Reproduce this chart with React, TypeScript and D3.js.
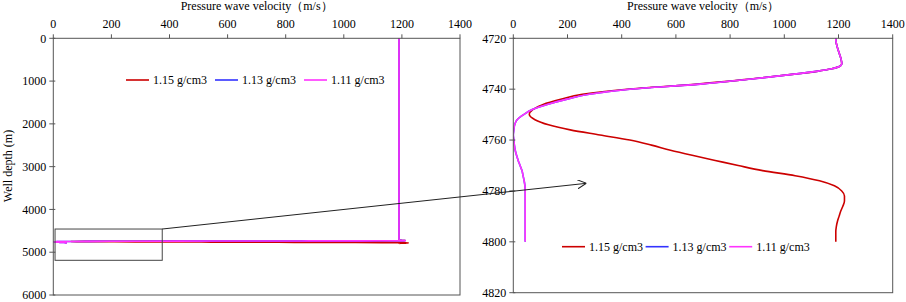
import React from "react";
import * as d3 from "d3";

// data: depth (m) and pressure wave velocity (m/s) per density
const depths = [
  0, 4720, 4722, 4724, 4726, 4728, 4730, 4731, 4732, 4733, 4734, 4736, 4738, 4740,
  4742, 4744, 4746, 4748, 4750, 4752, 4754, 4756, 4758, 4760, 4762, 4764, 4766,
  4768, 4770, 4772, 4774, 4776, 4778, 4780, 4782, 4784, 4786, 4788, 4790, 4792,
  4794, 4796, 4798, 4800,
];
const v115 = [
  1190, 1190, 1192, 1197, 1203, 1209, 1212, 1205, 1175, 1120, 1045, 875, 680, 420,
  255, 175, 110, 72, 59, 80, 130, 210, 320, 430, 510, 580, 660,
  745, 830, 920, 1040, 1130, 1185, 1212, 1222, 1222, 1216, 1208, 1202, 1196,
  1192, 1190, 1190, 1190,
];
const v113 = [
  1190, 1190, 1192, 1197, 1203, 1209, 1212, 1205, 1175, 1120, 1045, 880, 690, 430,
  280, 195, 125, 70, 38, 14, 5, 2, 0, 2, 4, 7, 12,
  18, 25, 32, 36, 40, 43, 44, 44, 44, 44, 44, 44, 44,
  44, 44, 44, 44,
];
const v111 = [
  1190, 1190, 1192, 1197, 1203, 1209, 1212, 1205, 1175, 1120, 1045, 880, 690, 430,
  280, 195, 125, 70, 38, 14, 5, 2, 0, 2, 4, 7, 12,
  18, 25, 32, 36, 40, 43, 44, 44, 44, 44, 44, 44, 44,
  44, 44, 44, 44,
];

const seriesNames = ["1.15 g/cm3", "1.13 g/cm3", "1.11 g/cm3"];
const seriesColors = ["#cc0000", "#3333ff", "#ff33ff"];
const seriesValues = [v115, v113, v111];

const velTicks = [0, 200, 400, 600, 800, 1000, 1200, 1400];
const depthTicksFull = [0, 1000, 2000, 3000, 4000, 5000, 6000];
const depthTicksZoom = [4720, 4740, 4760, 4780, 4800, 4820];

// zoom box on the left panel, and the arrow target on the right panel (data units)
const boxVel = [6, 375];
const boxDepth = [4458, 5189];
const arrowTarget = { vel: 270, depth: 4777 };

const axisTitle = "Pressure wave velocity（m/s）";
const yTitle = "Well depth (m)";

const font = "'Liberation Serif', 'Times New Roman', serif";
const axisColor = "#555";

const left = {
  x: d3.scaleLinear().domain([0, 1400]).range([53.3, 460]),
  y: d3.scaleLinear().domain([0, 6000]).range([38.3, 295]),
  ticks: depthTicksFull,
  legend: { x: 126, y: 80, step: 89 },
  clip: "clipL",
};
const right = {
  x: d3.scaleLinear().domain([0, 1400]).range([513.3, 892.7]),
  y: d3.scaleLinear().domain([4720, 4820]).range([38.3, 292.7]),
  ticks: depthTicksZoom,
  legend: { x: 562, y: 246.7, step: 83.6 },
  clip: "clipR",
};

function Panel({ p }) {
  const [x0, x1] = p.x.range();
  const [y0, y1] = p.y.range();
  const line = d3
    .line()
    .x((d) => p.x(d[1]))
    .y((d) => p.y(d[0]))
    .curve(d3.curveMonotoneY);

  return (
    <g>
      <defs>
        <clipPath id={p.clip}>
          <rect x={x0} y={y0} width={x1 - x0} height={y1 - y0} />
        </clipPath>
      </defs>
      <text
        x={(x0 + x1) / 2}
        y={10}
        textAnchor="middle"
        fontSize={12}
        fontFamily={font}
      >
        {axisTitle}
      </text>
      <g clipPath={`url(#${p.clip})`}>
        {seriesValues.map((vals, i) => (
          <path
            key={i}
            d={line(depths.map((d, j) => [d, vals[j]]))}
            fill="none"
            stroke={seriesColors[i]}
            strokeWidth={1.6}
          />
        ))}
      </g>
      <rect
        x={x0}
        y={y0}
        width={x1 - x0}
        height={y1 - y0}
        fill="none"
        stroke={axisColor}
        strokeWidth={1}
      />
      {velTicks.map((t) => (
        <g key={t}>
          <line x1={p.x(t)} x2={p.x(t)} y1={y0 - 4} y2={y0} stroke={axisColor} />
          <text
            x={p.x(t)}
            y={y0 - 10}
            textAnchor="middle"
            fontSize={12}
            fontFamily={font}
          >
            {t}
          </text>
        </g>
      ))}
      {p.ticks.map((t) => (
        <g key={t}>
          <line x1={x0 - 4} x2={x0 + 2} y1={p.y(t)} y2={p.y(t)} stroke={axisColor} />
          <text
            x={x0 - 7}
            y={p.y(t)}
            dy="0.35em"
            textAnchor="end"
            fontSize={12}
            fontFamily={font}
          >
            {t}
          </text>
        </g>
      ))}
      {seriesNames.map((name, i) => {
        const lx = p.legend.x + i * p.legend.step;
        return (
          <g key={name}>
            <line
              x1={lx}
              x2={lx + 23}
              y1={p.legend.y}
              y2={p.legend.y}
              stroke={seriesColors[i]}
              strokeWidth={1.6}
            />
            <text
              x={lx + 27}
              y={p.legend.y}
              dy="0.35em"
              fontSize={12}
              fontFamily={font}
            >
              {name}
            </text>
          </g>
        );
      })}
    </g>
  );
}

export default function App() {
  const bx0 = left.x(boxVel[0]);
  const bx1 = left.x(boxVel[1]);
  const by0 = left.y(boxDepth[0]);
  const by1 = left.y(boxDepth[1]);
  const tx = right.x(arrowTarget.vel);
  const ty = right.y(arrowTarget.depth);

  return (
    <svg
      width={906}
      height={302}
      style={{ position: "absolute", left: 0, top: 0, background: "#fff" }}
    >
      <defs>
        <marker
          id="arrowHead"
          viewBox="0 0 10 10"
          refX={10}
          refY={5}
          markerWidth={9}
          markerHeight={9}
          markerUnits="userSpaceOnUse"
          orient="auto"
        >
          <path d="M0,0 L10,5 L0,10" fill="none" stroke="#222" strokeWidth={1.2} />
        </marker>
      </defs>
      <rect x={0} y={0} width={906} height={302} fill="#fff" />
      <Panel p={left} />
      <Panel p={right} />
      <text
        transform={`translate(12, 166) rotate(-90)`}
        textAnchor="middle"
        fontSize={12}
        fontFamily={font}
      >
        {yTitle}
      </text>
      <rect
        x={bx0}
        y={by0}
        width={bx1 - bx0}
        height={by1 - by0}
        fill="none"
        stroke="#444"
        strokeWidth={1}
      />
      <line
        x1={bx1}
        y1={by0}
        x2={tx}
        y2={ty}
        stroke="#222"
        strokeWidth={1}
        markerEnd="url(#arrowHead)"
      />
    </svg>
  );
}
